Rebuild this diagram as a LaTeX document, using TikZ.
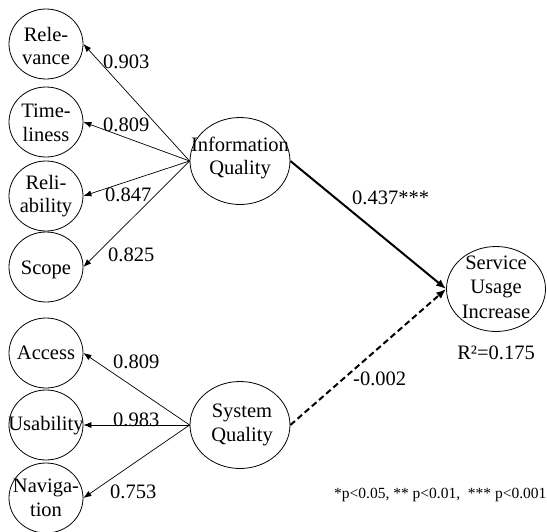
\documentclass[tikz,border=0pt]{standalone}
\usepackage{fontspec}
\setmainfont{Liberation Serif}
\usetikzlibrary{arrows.meta,shapes.geometric}
\begin{document}
\begin{tikzpicture}[x=1pt,y=-1pt,
  ind/.style={draw,ellipse,line width=0.8pt,minimum width=74pt,minimum height=70pt,inner sep=0pt},
  con/.style={draw,ellipse,line width=0.8pt,minimum width=100pt,minimum height=87pt,inner sep=0pt},
  txt/.style={align=center,inner sep=0pt,font=\fontsize{20.5}{23.5}\selectfont},
  coef/.style={anchor=west,inner sep=0pt,font=\fontsize{20.5}{23.5}\selectfont},
  load/.style={line width=0.7pt,-{Latex[length=8pt,width=6pt]}},
  path/.style={line width=2pt,-{Latex[length=10pt,width=8pt]}},
  nspath/.style={line width=2pt,dash pattern=on 6pt off 3.5pt,-{Latex[length=10pt,width=8pt]}},
  note/.style={anchor=west,inner sep=0pt,font=\fontsize{15.5}{18}\selectfont}]
\useasboundingbox (0,0) rectangle (547,531);
% indicator ellipses
\node[ind] (rel) at (46,44) {};
\node[ind] (tim) at (46,122) {};
\node[ind] (rli) at (46,196) {};
\node[ind] (sco) at (46,267) {};
\node[ind] (acc) at (46,353) {};
\node[ind] (usa) at (46,425) {};
\node[ind] (nav) at (46,498) {};
\node[txt] (relt) at (46,46) {Rele-\\vance};
\node[txt] (timt) at (46,123) {Time-\\liness};
\node[txt] (rlit) at (46,196) {Reli-\\ability};
\node[txt] (scot) at (46,270) {Scope};
\node[txt] (acct) at (46,353) {Access};
\node[txt] (usat) at (46,426) {Usability};
\node[txt] (navt) at (46,498) {Naviga-\\tion};
% constructs
\node[con] (iq) at (240,161) {};
\node[con] (sq) at (240,425) {};
\node[con,minimum width=99pt,minimum height=85pt] (sui) at (496,289) {};
\node[txt] (iqt) at (240,158) {Information\\Quality};
\node[txt] (sqt) at (242,425) {System\\Quality};
\node[txt,font=\fontsize{20.5}{24.5}\selectfont] (suit) at (496,287) {Service\\Usage\\Increase};
% loadings
\draw[load] (iq.west) -- (rel.east);
\draw[load] (iq.west) -- (tim.east);
\draw[load] (iq.west) -- (rli.east);
\draw[load] (iq.west) -- (sco.east);
\draw[load] (sq.west) -- (acc.east);
\draw[load] (sq.west) -- (usa.east);
\draw[load] (sq.west) -- (nav.east);
\node[coef] (l1) at (103,62) {0.903};
\node[coef] (l2) at (103,125) {0.809};
\node[coef] (l3) at (105,195) {0.847};
\node[coef] (l4) at (108,255) {0.825};
\node[coef] (l5) at (113,362) {0.809};
\node[coef] (l6) at (113,420) {0.983};
\node[coef] (l7) at (110,492) {0.753};
% structural paths
\draw[path] (iq.east) -- (sui.west);
\draw[nspath] (sq.east) -- (sui.west);
\node[coef] (p1) at (352,198) {0.437***};
\node[coef] (p2) at (353,379) {-0.002};
\node[txt] (r2) at (496,353) {R²=0.175};
\node[note] (fn) at (334,495) {*p<0.05, ** p<0.01,\ \ *** p<0.001};
\end{tikzpicture}
\end{document}
